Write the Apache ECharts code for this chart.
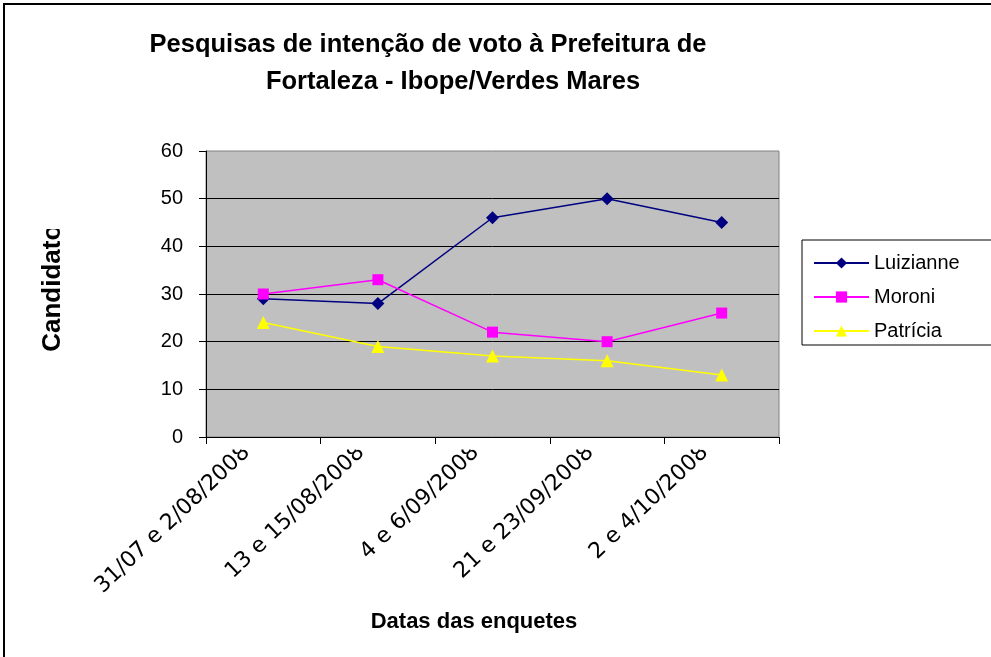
<!DOCTYPE html>
<html>
<head>
<meta charset="utf-8">
<script src="https://cdn.jsdelivr.net/npm/echarts@6.0.0/dist/echarts.min.js"></script>
<style>
  html, body { margin: 0; padding: 0; background: #fff; }
  #chart { width: 991px; height: 657px; }
</style>
</head>
<body>
<div id="chart"></div>
<script>
// datas das enquetes (eixo x)
const datas = ['31/07 e 2/08/2008', '13 e 15/08/2008', '4 e 6/09/2008', '21 e 23/09/2008', '2 e 4/10/2008']
// intenção de voto por candidato
const luizianne = [29, 28, 46, 50, 45]
const moroni = [30, 33, 22, 20, 26]
const patricia = [24, 19, 17, 16, 13]

const chart = echarts.init(document.getElementById('chart'), null, { renderer: 'canvas' })

const font = 'Liberation Sans, Arial, sans-serif'

// faixas brancas entre os ticks do eixo x (cortam o fim dos rótulos, como no Excel)
const cortes = [[207.5, 319], [322, 434], [436.5, 548.5], [551, 663], [666, 777.5]].map(c => ({
  type: 'rect',
  z: 100,
  shape: { x: c[0], y: 438, width: c[1] - c[0], height: 7 },
  style: { fill: '#fff' }
}))

const option = {
  animation: false,
  backgroundColor: '#fff',
  title: [{
    text: 'Pesquisas de intenção de voto à Prefeitura de',
    left: 428,
    top: 45,
    padding: 0,
    textAlign: 'center',
    textVerticalAlign: 'middle',
    textStyle: { fontFamily: font, fontSize: 25.5, fontWeight: 'bold', color: '#000' }
  }, {
    text: 'Fortaleza - Ibope/Verdes Mares',
    left: 453,
    top: 82,
    padding: 0,
    textAlign: 'center',
    textVerticalAlign: 'middle',
    textStyle: { fontFamily: font, fontSize: 25.5, fontWeight: 'bold', color: '#000' }
  }],
  legend: {
    orient: 'vertical',
    left: 802,
    top: 240,
    padding: [13, 40, 4, 11],
    borderColor: '#000',
    borderWidth: 1,
    backgroundColor: '#fff',
    itemWidth: 55,
    itemHeight: 14,
    itemGap: 14,
    textStyle: { fontFamily: font, fontSize: 20, color: '#000' },
    data: ['Luizianne', 'Moroni', 'Patrícia']
  },
  grid: {
    left: 206,
    right: 212,
    top: 151,
    bottom: 220,
    containLabel: false,
    outerBoundsMode: 'none',
    show: true,
    backgroundColor: '#c0c0c0',
    borderColor: '#808080',
    borderWidth: 1
  },
  xAxis: {
    type: 'category',
    data: datas,
    boundaryGap: true,
    name: 'Datas das enquetes',
    nameLocation: 'middle',
    nameGap: 174,
    nameTextStyle: { fontFamily: font, fontSize: 22, fontWeight: 'bold', color: '#000', padding: [0, 37, 0, 0] },
    axisLine: { lineStyle: { color: '#000', width: 1 } },
    axisTick: { show: true, length: 7, alignWithLabel: false, lineStyle: { color: '#000' } },
    axisLabel: {
      interval: 0,
      rotate: 43.5,
      margin: -3.5,
      padding: [0, 23, 16, 0],
      fontFamily: 'DejaVu Sans',
      fontSize: 22,
      color: '#000',
      hideOverlap: false
    },
    splitLine: { show: false }
  },
  yAxis: {
    type: 'value',
    min: 0,
    max: 60,
    interval: 10,
    name: 'Candidatos',
    nameLocation: 'middle',
    nameRotate: 90,
    nameGap: 140,
    nameTextStyle: { fontFamily: font, fontSize: 26, fontWeight: 'bold', color: '#000', padding: [0, 0, 0, 26] },
    axisLine: { show: true, lineStyle: { color: '#000', width: 1 } },
    axisTick: { show: true, length: 7, lineStyle: { color: '#000' } },
    axisLabel: { fontFamily: font, fontSize: 20, color: '#000', margin: 23 },
    splitLine: { show: true, showMaxLine: false, lineStyle: { color: '#000', width: 1 } }
  },
  series: [{
    name: 'Luizianne',
    type: 'line',
    data: luizianne,
    symbol: 'diamond',
    symbolSize: 13,
    itemStyle: { color: '#000080' },
    lineStyle: { color: '#000080', width: 1.5 }
  }, {
    name: 'Moroni',
    type: 'line',
    data: moroni,
    symbol: 'rect',
    symbolSize: 11,
    itemStyle: { color: '#ff00ff' },
    lineStyle: { color: '#ff00ff', width: 1.5 }
  }, {
    name: 'Patrícia',
    type: 'line',
    data: patricia,
    symbol: 'triangle',
    symbolSize: 13,
    itemStyle: { color: '#ffff00' },
    lineStyle: { color: '#ffff00', width: 1.5 }
  }],
  graphic: [{
    // moldura do gráfico
    type: 'rect',
    z: 100,
    shape: { x: 4, y: 4, width: 1200, height: 1200 },
    style: { fill: null, stroke: '#000', lineWidth: 2 }
  }, {
    type: 'rect',
    z: 100,
    shape: { x: 190, y: 444.5, width: 620, height: 5 },
    style: { fill: '#fff' }
  }, ...cortes, {
    // corta o título do eixo y
    type: 'rect',
    z: 100,
    shape: { x: 20, y: 150, width: 75, height: 79 },
    style: { fill: '#fff' }
  }]
}

chart.setOption(option)
</script>
</body>
</html>
